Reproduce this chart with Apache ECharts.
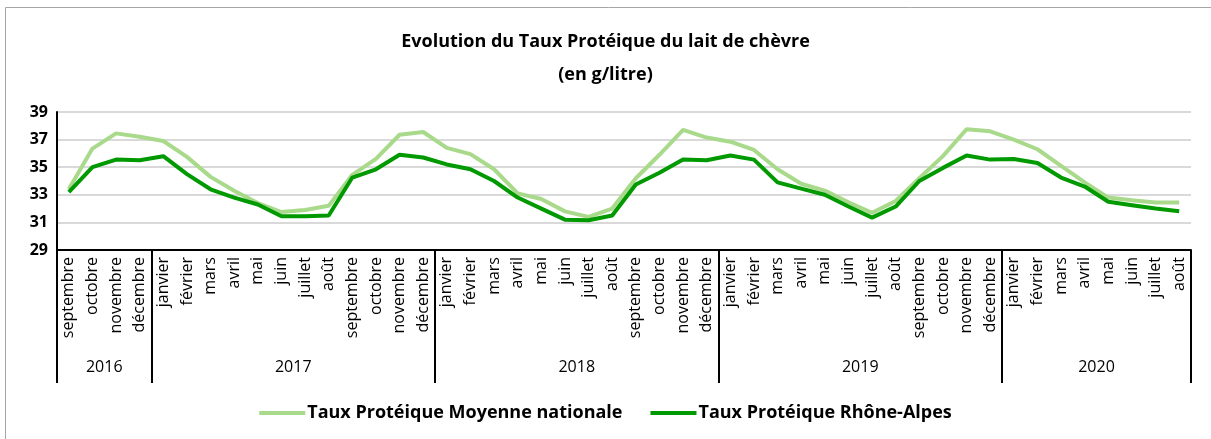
<!DOCTYPE html>
<html>
<head>
<meta charset="utf-8">
<script src="https://cdn.jsdelivr.net/npm/echarts@6/dist/echarts.min.js"></script>
<style>
  html, body { margin: 0; padding: 0; background: #fff; }
  #main { width: 1211px; height: 439px; }
</style>
</head>
<body>
<div id="main"></div>
<script>
// mois de septembre 2016 à août 2020
var months = [
  'septembre', 'octobre', 'novembre', 'décembre',
  'janvier', 'février', 'mars', 'avril', 'mai', 'juin', 'juillet', 'août', 'septembre', 'octobre', 'novembre', 'décembre',
  'janvier', 'février', 'mars', 'avril', 'mai', 'juin', 'juillet', 'août', 'septembre', 'octobre', 'novembre', 'décembre',
  'janvier', 'février', 'mars', 'avril', 'mai', 'juin', 'juillet', 'août', 'septembre', 'octobre', 'novembre', 'décembre',
  'janvier', 'février', 'mars', 'avril', 'mai', 'juin', 'juillet', 'août'
];
var years = ['2016', '2017', '2018', '2019', '2020'];
var yearCenters = [2, 10, 22, 34, 44];
var yearBounds = [0, 4, 16, 28, 40, 48];

var nationale = [
  33.4, 36.35, 37.45, 37.2, 36.9, 35.75, 34.3, 33.3, 32.4, 31.75, 31.9, 32.2, 34.45, 35.6, 37.35, 37.55,
  36.4, 35.95, 34.85, 33.1, 32.7, 31.8, 31.4, 32.0, 34.2, 35.9, 37.7, 37.15, 36.85, 36.25, 34.85, 33.8,
  33.3, 32.45, 31.7, 32.55, 34.2, 35.8, 37.75, 37.6, 37.0, 36.3, 35.1, 33.9, 32.8, 32.6, 32.45, 32.45
];
var rhoneAlpes = [
  33.2, 35.0, 35.55, 35.5, 35.8, 34.5, 33.4, 32.8, 32.3, 31.45, 31.45, 31.5, 34.25, 34.85, 35.9, 35.7,
  35.2, 34.85, 34.0, 32.8, 32.0, 31.2, 31.15, 31.5, 33.75, 34.6, 35.55, 35.5, 35.85, 35.55, 33.9, 33.45,
  33.0, 32.15, 31.35, 32.15, 34.0, 34.95, 35.85, 35.55, 35.6, 35.3, 34.25, 33.6, 32.5, 32.25, 32.0, 31.8
];
var yTicks = [29, 31, 33, 35, 37, 39];

var font = 'Open Sans';
var myChart = echarts.init(document.getElementById('main'));
myChart.setOption({
  animation: false,
  textStyle: { fontFamily: font },
  graphic: [{
    type: 'rect',
    shape: { x: 5.5, y: 7.5, width: 1240, height: 460 },
    style: { fill: 'none', stroke: '#a6a6a6', lineWidth: 1 },
    silent: true
  }],
  title: [
    {
      text: 'Evolution du Taux Protéique du lait de chèvre',
      left: 'center', top: 28,
      textStyle: { fontFamily: font, fontSize: 18, fontWeight: 'bold', color: '#000' }
    },
    {
      text: '(en g/litre)',
      left: 'center', top: 61,
      textStyle: { fontFamily: font, fontSize: 18, fontWeight: 'bold', color: '#000' }
    }
  ],
  legend: {
    bottom: 12,
    left: 'center',
    itemWidth: 46,
    itemHeight: 4,
    itemGap: 28,
    icon: 'rect',
    textStyle: { fontFamily: font, fontSize: 18, fontWeight: 'bold', color: '#000', padding: [0, 0, 0, -3] },
    data: ['Taux Protéique Moyenne nationale', 'Taux Protéique Rhône-Alpes']
  },
  grid: { left: 57, right: 20, top: 112, bottom: 189 },
  xAxis: [
    {
      type: 'category',
      data: months,
      boundaryGap: true,
      axisLine: { lineStyle: { color: '#000', width: 2 } },
      axisTick: { show: false },
      axisLabel: {
        rotate: 90, interval: 0, margin: 7,
        fontFamily: font, fontSize: 16, color: '#000'
      },
      splitLine: { show: false }
    },
    {
      type: 'value',
      position: 'bottom',
      min: 0, max: 48,
      axisLine: { show: false },
      axisTick: {
        show: true, length: 133, inside: false,
        customValues: yearBounds,
        lineStyle: { color: '#000', width: 2 }
      },
      axisLabel: {
        margin: 109,
        customValues: yearCenters,
        formatter: function (v) {
          var i = yearCenters.indexOf(v);
          return i >= 0 ? years[i] : '';
        },
        fontFamily: font, fontSize: 16, color: '#000'
      },
      splitLine: { show: false }
    }
  ],
  yAxis: {
    type: 'value',
    min: yTicks[0], max: yTicks[yTicks.length - 1], interval: 2,
    axisLine: { show: true, lineStyle: { color: '#000', width: 2 } },
    axisTick: { show: false },
    axisLabel: { fontFamily: font, fontSize: 16, fontWeight: 'bold', color: '#000', margin: 9 },
    splitLine: { lineStyle: { color: '#d9d9d9', width: 2 } }
  },
  series: [
    {
      name: 'Taux Protéique Moyenne nationale',
      type: 'line',
      data: nationale,
      symbol: 'none',
      lineStyle: { color: '#a9d98b', width: 4 },
      itemStyle: { color: '#a9d98b' }
    },
    {
      name: 'Taux Protéique Rhône-Alpes',
      type: 'line',
      data: rhoneAlpes,
      symbol: 'none',
      lineStyle: { color: '#009a00', width: 4 },
      itemStyle: { color: '#009a00' }
    }
  ]
});
</script>
</body>
</html>
